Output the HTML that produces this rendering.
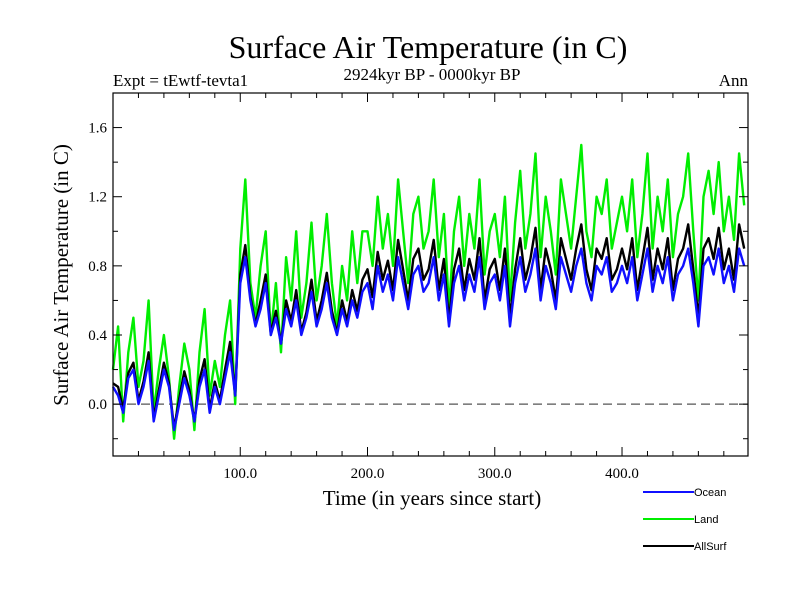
<!DOCTYPE html>
<html><head><meta charset="utf-8"><style>
body{margin:0;background:#fff}
svg{display:block}
text{font-family:"Liberation Serif",serif;fill:#000}
.s{font-family:"Liberation Sans",sans-serif}
</style></head><body>
<svg id="c" width="800" height="600">
<text x="428" y="58" font-size="32" text-anchor="middle">Surface Air Temperature (in C)</text>
<text x="113" y="86" font-size="17">Expt = tEwtf-tevta1</text>
<text x="432" y="80" font-size="17" text-anchor="middle">2924kyr BP - 0000kyr BP</text>
<text x="748" y="86" font-size="17" text-anchor="end">Ann</text>
<text x="432" y="505" font-size="21" text-anchor="middle">Time (in years since start)</text>
<text transform="translate(68,275) rotate(-90)" font-size="21" text-anchor="middle">Surface Air Temperature (in C)</text>
<g id="plot"></g>
</svg>
<script>
const years=[];for(let i=0;i<125;i++)years.push(i*4);
const ocean=[0.1,0.05,-0.05,0.15,0.2,0.0,0.1,0.25,-0.1,0.05,0.2,0.1,-0.15,0.0,0.15,0.05,-0.1,0.1,0.2,-0.05,0.1,0.0,0.15,0.3,0.05,
0.7,0.85,0.6,0.45,0.55,0.7,0.4,0.5,0.35,0.55,0.45,0.6,0.4,0.5,0.65,0.45,0.55,0.7,0.5,0.4,0.55,0.45,0.6,0.5,0.65,
0.7,0.55,0.8,0.65,0.75,0.6,0.85,0.7,0.55,0.75,0.8,0.65,0.7,0.85,0.6,0.75,0.45,0.7,0.8,0.6,0.75,0.65,0.85,0.55,0.7,
0.75,0.6,0.8,0.45,0.7,0.85,0.65,0.75,0.9,0.6,0.8,0.7,0.55,0.85,0.75,0.65,0.8,0.9,0.7,0.6,0.8,0.75,0.85,0.65,0.7,
0.8,0.7,0.85,0.6,0.75,0.9,0.65,0.8,0.7,0.85,0.6,0.75,0.8,0.9,0.7,0.45,0.8,0.85,0.75,0.9,0.7,0.8,0.65,0.9,0.8];
const land=[0.2,0.45,-0.1,0.3,0.5,0.1,0.25,0.6,-0.05,0.2,0.4,0.15,-0.2,0.1,0.35,0.2,-0.15,0.3,0.55,0.05,0.25,0.1,0.4,0.6,0.0,
0.9,1.3,0.7,0.5,0.8,1.0,0.4,0.7,0.3,0.85,0.6,1.0,0.5,0.7,1.05,0.6,0.8,1.1,0.7,0.45,0.8,0.6,1.0,0.7,1.0,
1.0,0.8,1.2,0.9,1.1,0.8,1.3,1.0,0.7,1.1,1.2,0.9,1.0,1.3,0.85,1.1,0.55,1.0,1.2,0.8,1.1,0.9,1.3,0.75,1.0,
1.1,0.85,1.2,0.6,1.05,1.35,0.9,1.1,1.45,0.85,1.2,1.0,0.75,1.3,1.1,0.9,1.2,1.5,1.0,0.85,1.2,1.1,1.3,0.9,1.05,
1.2,1.0,1.3,0.85,1.1,1.45,0.9,1.2,1.0,1.3,0.85,1.1,1.2,1.45,1.0,0.6,1.2,1.35,1.1,1.4,1.0,1.2,0.95,1.45,1.15];
const allsurf=[0.12,0.1,-0.03,0.18,0.24,0.02,0.13,0.3,-0.08,0.08,0.24,0.12,-0.14,0.03,0.19,0.08,-0.1,0.14,0.26,-0.03,0.13,0.02,0.2,0.36,0.05,
0.75,0.92,0.62,0.46,0.6,0.75,0.41,0.54,0.35,0.6,0.48,0.66,0.42,0.53,0.72,0.48,0.6,0.76,0.54,0.41,0.6,0.48,0.66,0.54,0.72,
0.78,0.62,0.88,0.72,0.83,0.66,0.95,0.78,0.6,0.84,0.9,0.72,0.78,0.95,0.66,0.84,0.48,0.78,0.9,0.66,0.84,0.72,0.96,0.6,0.78,
0.84,0.66,0.9,0.5,0.78,0.96,0.72,0.84,1.02,0.66,0.9,0.78,0.6,0.96,0.84,0.72,0.9,1.04,0.78,0.66,0.9,0.84,0.96,0.72,0.78,
0.9,0.78,0.96,0.66,0.84,1.02,0.72,0.9,0.78,0.96,0.66,0.84,0.9,1.04,0.78,0.5,0.9,0.96,0.84,1.02,0.78,0.9,0.72,1.04,0.9];
const xTicks=[100,200,300,400];
const xTickLabels=["100.0","200.0","300.0","400.0"];
const yTicks=[0,0.4,0.8,1.2,1.6];
const yTickLabels=["0.0","0.4","0.8","1.2","1.6"];
const L=113,R=748,T=93,B=456,x0=0,x1=499,y0=-0.3,y1=1.8;
const X=v=>L+(v-x0)/(x1-x0)*(R-L);
const Y=v=>B-(v-y0)/(y1-y0)*(B-T);
const NS="http://www.w3.org/2000/svg";
const g=document.getElementById('plot');
function mk(t,a,p){const e=document.createElementNS(NS,t);for(const k in a)e.setAttribute(k,a[k]);(p||g).appendChild(e);return e;}
let e=mk('line',{x1:L,x2:R,y1:Y(0),y2:Y(0),stroke:'#555','stroke-dasharray':'9,5','stroke-width':1.2});


function series(arr,col,name){const d=arr.map((v,i)=>(i?'L':'M')+X(years[i]).toFixed(1)+','+Y(v).toFixed(1)).join('');
const p=mk('path',{d:d,fill:'none',stroke:col,'stroke-width':2.4,'stroke-linejoin':'round'});

}
series(land,'#00ee00','land-line');
series(allsurf,'#000','allsurf-line');
series(ocean,'#1010ff','ocean-line');
e=mk('rect',{x:L,y:T,width:R-L,height:B-T,fill:'none',stroke:'#000','stroke-width':1.2});


for(let v=20;v<x1;v+=20){const big=v%100===0;const h=big?9:5;
mk('line',{x1:X(v),x2:X(v),y1:B,y2:B-h,stroke:'#000'});mk('line',{x1:X(v),x2:X(v),y1:T,y2:T+h,stroke:'#000'});}
xTicks.forEach((v,i)=>{const t=mk('text',{x:X(v),y:B+22,'font-size':15,'text-anchor':'middle'});t.textContent=xTickLabels[i];

});
for(let v=-0.2;v<1.8;v+=0.2){const big=Math.abs(v*10/4-Math.round(v*10/4))<0.01;const h=big?9:5;
mk('line',{x1:L,x2:L+h,y1:Y(v),y2:Y(v),stroke:'#000'});mk('line',{x1:R,x2:R-h,y1:Y(v),y2:Y(v),stroke:'#000'});}
yTicks.forEach((v,i)=>{const t=mk('text',{x:L-6,y:Y(v)+5,'font-size':15,'text-anchor':'end'});t.textContent=yTickLabels[i];

});
const legNames=["Ocean","Land","AllSurf"],legCols=["#1010ff","#00ee00","#000"];
legNames.forEach((n,i)=>{const y=492+i*27;const lg=mk('g',{});


mk('line',{x1:643,x2:694,y1:y,y2:y,stroke:legCols[i],'stroke-width':2},lg);
const t=mk('text',{x:694,y:y+4,'font-size':11,class:'s'},lg);t.textContent=n;});
</script>
</body></html>
